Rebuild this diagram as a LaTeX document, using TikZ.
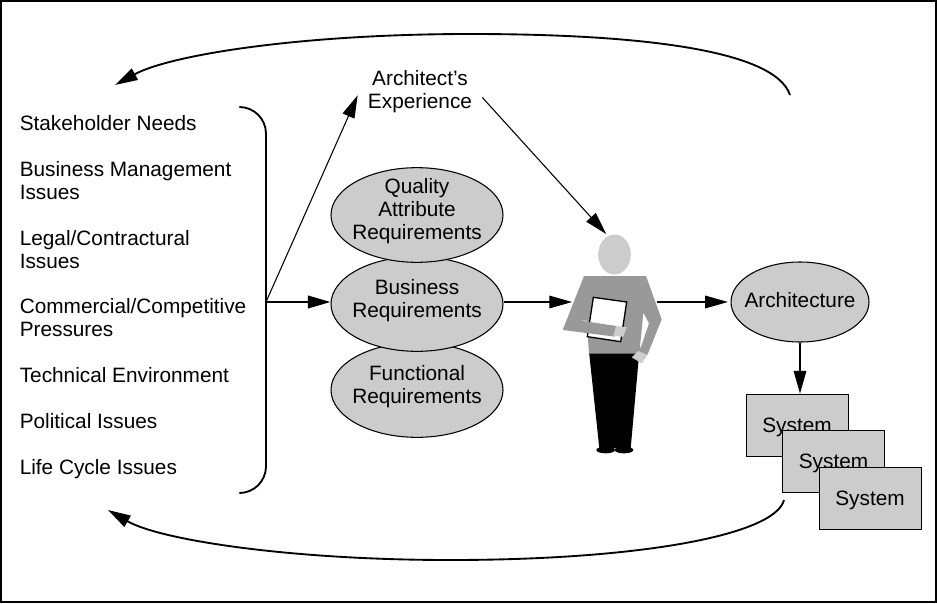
\documentclass[tikz,border=0pt]{standalone}
\usepackage{fontspec}
\setmainfont{Liberation Sans}
\usepackage{xcolor}
\usetikzlibrary{calc, positioning, arrows.meta, shapes.geometric}
\definecolor{boxFill}{RGB}{204, 204, 204}
\definecolor{shirtFill}{RGB}{153, 153, 153}
\tikzset{
  flow/.style={-{Triangle[length=17pt, width=9.5pt]}, line width=0.8pt},
  flowheavy/.style={flow, line width=1.4pt},
  label/.style={inner sep=0pt, anchor=west, align=left},
  req/.style={ellipse, draw, line width=0.8pt, fill=boxFill, align=center, minimum width=129pt, minimum height=71pt, inner xsep=-4pt, inner ysep=-8pt, text depth=9pt},
  sysbox/.style={rectangle, draw, line width=0.75pt, fill=boxFill, minimum width=76.5pt, minimum height=46.5pt, inner sep=0pt, text height=11pt, text depth=0pt},
}
\begin{document}
\begin{tikzpicture}[x=0.75pt, y=-0.75pt, >=Stealth, font=\fontsize{15.6}{17.25}\selectfont]
  \useasboundingbox (0, 0) rectangle (937, 603);
  \draw[line width=1.2pt] (1, 1) rectangle (936, 602);

  % Influences on the left
  \node[label] (needs) at (19.5, 123) {Stakeholder Needs};
  \node[label] (mgmt) at (19.5, 180.5) {Business Management\\Issues};
  \node[label] (legal) at (19.5, 249.5) {Legal/Contractural\\Issues};
  \node[label] (comm) at (19.5, 318) {Commercial/Competitive\\Pressures};
  \node[label] (tech) at (19.5, 375) {Technical Environment};
  \node[label] (poli) at (19.5, 421) {Political Issues};
  \node[label] (life) at (19.5, 469) {Life Cycle Issues};

  % Bracket
  \draw[line width=1.4pt, rounded corners=20pt] (240, 107) -- (266, 107) -- (266, 493) -- (240, 493);
  \coordinate (brk) at (266, 302);

  % Requirements, lowest first
  \node[req] (func) at (417, 390) {Functional\\Requirements};
  \node[req] (biz) at (417, 304) {Business\\Requirements};
  \node[req] (qual) at (417, 215) {Quality\\Attribute\\Requirements};

  \node[inner xsep=7.5pt, inner ysep=0pt, align=center] (exper) at (420, 92) {Architect’s\\Experience};

  % Person
  \node[ellipse, fill=boxFill, minimum width=24.5pt, minimum height=30pt, inner sep=0pt, outer sep=2pt] (head) at (614.5, 254.5) {};
  \coordinate (bodyL) at (572, 302);
  \coordinate (bodyR) at (657, 302);
  \begin{scope}[shift={(540, 220)}, scale=1/3]
    \fill[black] (147, 395) -- (178, 685) -- (272, 685) -- (298, 395) -- cycle;
    \fill[black] (197, 690) ellipse (28 and 10);
    \fill[black] (252, 690) ellipse (28 and 10);
    \fill[shirtFill] (132, 168) -- (318, 168) -- (365, 298) -- (322, 405) -- (296, 395) -- (305, 375) -- (327, 310) -- (310, 278) -- (298, 401) -- (147, 401) -- (140, 302) -- (122, 302) -- cycle;
    \fill[white, draw=black, line width=1pt] (160, 232) -- (260, 246) -- (242, 365) -- (142, 350) -- cycle;
    \fill[shirtFill] (132, 168) -- (68, 330) -- (225, 350) -- (230, 318) -- (122, 302) -- (150, 230) -- cycle;
    \fill[boxFill] (228, 318) -- (260, 322) -- (250, 350) -- (220, 348) -- cycle;
    \fill[boxFill] (275, 412) -- (295, 393) -- (322, 405) -- (305, 430) -- cycle;
  \end{scope}

  \node[req, minimum width=103.5pt, minimum height=60pt, inner xsep=-8pt, text depth=3pt] (arch) at (800, 302) {Architecture};

  \node[sysbox] (sysA) at (797, 425) {System};
  \node[sysbox] (sysB) at (833.5, 461) {System};
  \node[sysbox] (sysC) at (870, 498) {System};

  \draw[flow] (brk) -- (exper.183);
  \draw[flowheavy] (brk) -- (brk -| biz.west);
  \draw[flow] (exper.-5) -- (head.112);
  \draw[flow] (bodyL -| biz.east) -- (bodyL);
  \draw[flow, shorten >=2pt] (bodyR) -- (arch.west);
  \draw[flow] (arch.south) -- (arch.south |- sysA.north);

  % Feedback loops
  \coordinate (topStart) at (790, 95);
  \coordinate (topEnd) at (115, 85);
  \coordinate (botStart) at (784, 500);
  \coordinate (botEnd) at (108, 510);
  \draw[flowheavy] (topStart) .. controls (775, 50) and (640, 34) .. (470, 34) .. controls (300, 34) and (170, 55) .. (topEnd);
  \draw[flowheavy] (botStart) .. controls (775, 535) and (640, 560) .. (450, 560) .. controls (290, 560) and (160, 540) .. (botEnd);
\end{tikzpicture}
\end{document}
